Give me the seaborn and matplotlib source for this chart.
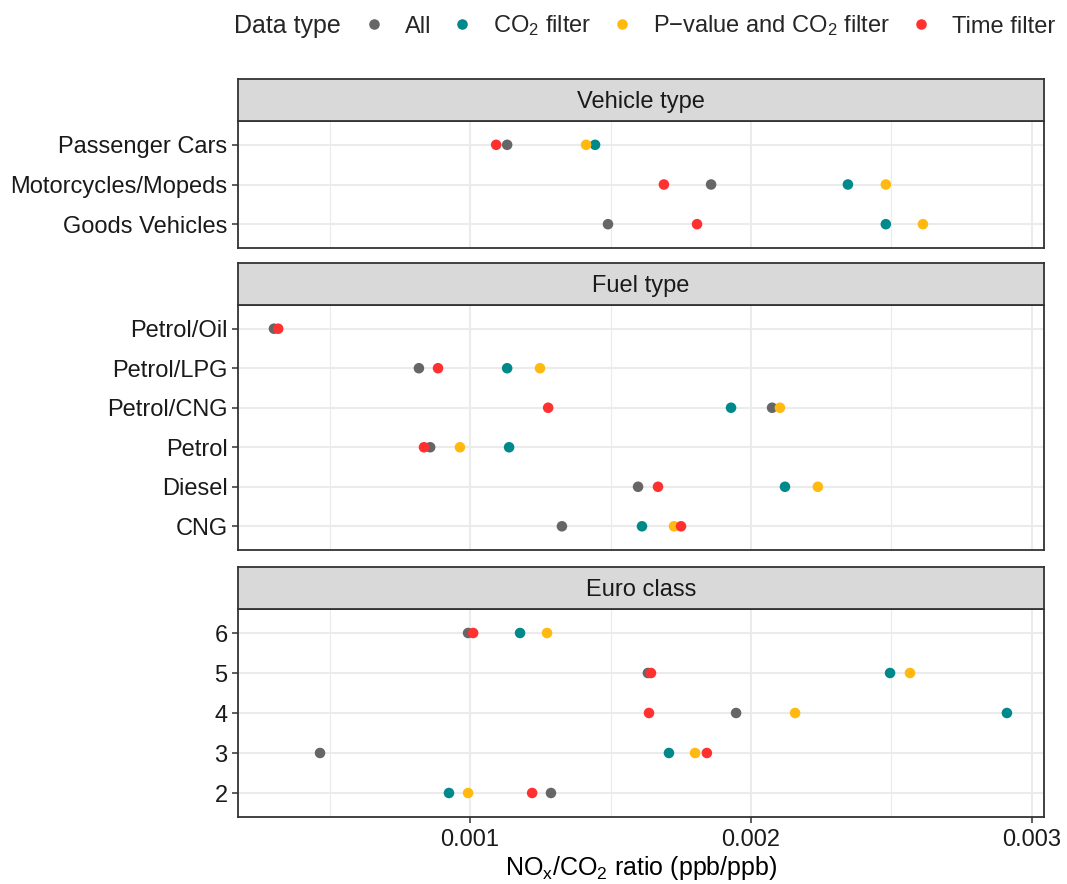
import numpy as np
import pandas as pd
import matplotlib
matplotlib.use("Agg")
import matplotlib.pyplot as plt
import seaborn as sns
from matplotlib.lines import Line2D
from matplotlib.ticker import FixedLocator, NullFormatter

sns.set_theme(style="white")
plt.rcParams['font.family'] = ['Liberation Sans', 'DejaVu Sans']
plt.rcParams['mathtext.fontset'] = 'custom'
plt.rcParams['mathtext.rm'] = 'Liberation Sans'
plt.rcParams['mathtext.it'] = 'Liberation Sans:italic'
plt.rcParams['mathtext.default'] = 'regular'

# ---- data -------------------------------------------------------------
data_types = ["All", "CO2 filter", "P-value and CO2 filter", "Time filter"]
legend_labels = ["All", "CO$_2$ filter", "P\u2212value and CO$_2$ filter", "Time filter"]
palette = ["#666666", "#00898B", "#FFB90F", "#FF3030"]

vehicle_types = ["Passenger Cars", "Motorcycles/Mopeds", "Goods Vehicles"]
vehicle_all = [0.001132, 0.001858, 0.001491]
vehicle_co2 = [0.001445, 0.002345, 0.002480]
vehicle_pco2 = [0.001413, 0.002480, 0.002612]
vehicle_time = [0.001093, 0.001690, 0.001808]

fuel_types = ["Petrol/Oil", "Petrol/LPG", "Petrol/CNG", "Petrol", "Diesel", "CNG"]
fuel_all = [0.000302, 0.000818, 0.002075, 0.000858, 0.001598, 0.001327]
fuel_co2 = [np.nan, 0.001132, 0.001929, 0.001139, 0.002121, 0.001612]
fuel_pco2 = [np.nan, 0.001249, 0.002103, 0.000964, 0.002238, 0.001726]
fuel_time = [0.000317, 0.000886, 0.001278, 0.000836, 0.001669, 0.001751]

euro_classes = ["6", "5", "4", "3", "2"]
euro_all = [0.000993, 0.001633, 0.001947, 0.000466, 0.001288]
euro_co2 = [0.001178, 0.002495, 0.002911, 0.001708, 0.000925]
euro_pco2 = [0.001274, 0.002566, 0.002157, 0.001801, 0.000993]
euro_time = [0.001011, 0.001644, 0.001637, 0.001843, 0.001221]

facets = [
    ("Vehicle type", vehicle_types, [vehicle_all, vehicle_co2, vehicle_pco2, vehicle_time]),
    ("Fuel type", fuel_types, [fuel_all, fuel_co2, fuel_pco2, fuel_time]),
    ("Euro class", euro_classes, [euro_all, euro_co2, euro_pco2, euro_time]),
]

x_major = [0.001, 0.002, 0.003]
x_minor = [0.0005, 0.0015, 0.0025]
x_range = (0.000174, 0.003043)

# ---- layout (pixel geometry of a 1067x884 canvas) ---------------------
W, H = 1067, 884
fig = plt.figure(figsize=(W / 100, H / 100), dpi=100)
left_px, right_px = 238, 1044
panels_px = [(79, 121, 248), (263, 305, 550), (567, 609, 817)]  # strip top, panel top, panel bottom

edge = "#333333"
grid_col = "#EBEBEB"
fs = 17

for i, ((title, cats, series), (st, pt, pb)) in enumerate(zip(facets, panels_px)):
    ax = fig.add_axes([left_px / W, 1 - pb / H, (right_px - left_px) / W, (pb - pt) / H])
    rows = []
    for dtype, vals in zip(data_types, series):
        for c, v in zip(cats, vals):
            if not np.isnan(v):
                rows.append({"category": c, "ratio": v, "type": dtype})
    df = pd.DataFrame(rows)
    sns.stripplot(data=df, x="ratio", y="category", hue="type", order=cats,
                  hue_order=data_types, palette=palette, jitter=False, dodge=False,
                  size=7.6, linewidth=0, ax=ax, legend=False, zorder=3)
    n = len(cats)
    ax.set_ylim(n - 1 + 0.6, -0.6)
    ax.set_xlim(*x_range)
    ax.xaxis.set_major_locator(FixedLocator(x_major))
    ax.xaxis.set_minor_locator(FixedLocator(x_minor))
    ax.xaxis.set_minor_formatter(NullFormatter())
    ax.set_axisbelow(True)
    ax.grid(True, which="major", axis="both", color=grid_col, lw=1.5)
    ax.grid(True, which="minor", axis="x", color=grid_col, lw=0.8)
    ax.set_xlabel("")
    ax.set_ylabel("")
    for s in ax.spines.values():
        s.set_color(edge)
        s.set_linewidth(1.3)
    ax.tick_params(axis="y", which="major", left=True, length=4.5, width=1.1,
                   color=edge, pad=3, labelsize=fs, labelcolor="#1A1A1A")
    if i == len(facets) - 1:
        ax.tick_params(axis="x", which="major", bottom=True, length=4.5, width=1.1,
                       color=edge, pad=4, labelsize=fs, labelcolor="#1A1A1A")
        ax.tick_params(axis="x", which="minor", bottom=False)
        ax.set_xticklabels(["0.001", "0.002", "0.003"])
        ax.set_xlabel("NO$_x$/CO$_2$ ratio (ppb/ppb)", fontsize=18, color="black", labelpad=2)
    else:
        ax.tick_params(axis="x", which="both", bottom=False, labelbottom=False)

    # facet strip
    sax = fig.add_axes([left_px / W, 1 - pt / H, (right_px - left_px) / W, (pt - st) / H])
    sax.set_facecolor("#D9D9D9")
    sax.set_xticks([])
    sax.set_yticks([])
    for s in sax.spines.values():
        s.set_color(edge)
        s.set_linewidth(1.3)
    sax.text(0.5, 0.45, title, ha="center", va="center", fontsize=fs,
             color="#1A1A1A", transform=sax.transAxes)

# ---- legend -----------------------------------------------------------
handles = [Line2D([], [], marker="o", linestyle="", markersize=7.6,
                  markerfacecolor=c, markeredgewidth=0) for c in palette]
fig.text(234 / W, 1 - 26 / H, "Data type", ha="left", va="center", fontsize=18)
fig.legend(handles, legend_labels, loc="center left",
           bbox_to_anchor=(362 / W, 1 - 26 / H), ncol=4, frameon=False,
           fontsize=17, handlelength=1.0, handletextpad=0.8,
           columnspacing=0.82, borderpad=0, borderaxespad=0)

fig.savefig("out.png", dpi=100)
